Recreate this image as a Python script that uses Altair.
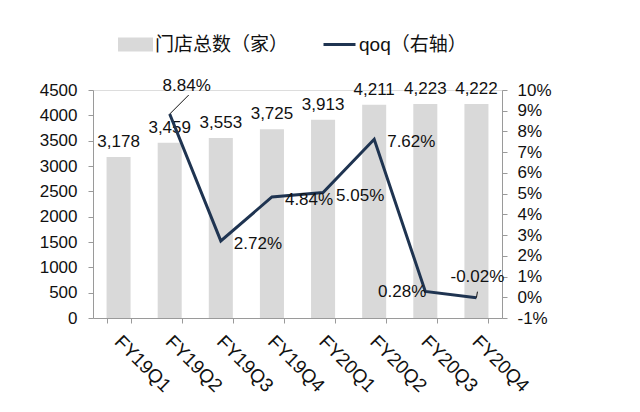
import altair as alt
import pandas as pd

quarters = ["FY19Q1", "FY19Q2", "FY19Q3", "FY19Q4", "FY20Q1", "FY20Q2", "FY20Q3", "FY20Q4"]
stores = [3178, 3459, 3553, 3725, 3913, 4211, 4223, 4222]
qoq_quarters = ["FY19Q2", "FY19Q3", "FY19Q4", "FY20Q1", "FY20Q2", "FY20Q3", "FY20Q4"]
qoq_values = [8.84, 2.72, 4.84, 5.05, 7.62, 0.28, -0.02]
left_ticks = [0, 500, 1000, 1500, 2000, 2500, 3000, 3500, 4000, 4500]
right_ticks = [-1, 0, 1, 2, 3, 4, 5, 6, 7, 8, 9, 10]
bar_name = "门店总数（家）"
line_name = "qoq（右轴）"

bars_df = pd.DataFrame({"q": quarters, "stores": stores})
bars_df["label"] = [f"{v:,}" for v in stores]
bars_df["series"] = bar_name
line_df = pd.DataFrame({"q": qoq_quarters, "qoq": qoq_values})
line_df["label"] = [f"{v:.2f}%" for v in qoq_values]
line_df["series"] = line_name

FONT = "Liberation Sans, Noto Sans CJK SC, sans-serif"
NAVY = "#1f3451"
GRAY = "#d9d9d9"
AXIS = "#9a9a9a"

X = alt.X(
    "q:N",
    sort=quarters,
    title=None,
    scale=alt.Scale(paddingInner=0.53, paddingOuter=0.265),
    axis=alt.Axis(
        labelAngle=45, labelAlign="left", labelBaseline="top", labelPadding=9,
        labelOffset=5, labelFontSize=19, labelColor="#111", domainColor=AXIS,
        tickColor=AXIS, tickBand="extent", tickSize=5, labelFont=FONT,
    ),
)
YL = alt.Y(
    "stores:Q",
    title=None,
    scale=alt.Scale(domain=[0, 4500], nice=False),
    axis=alt.Axis(
        orient="left", values=left_ticks, format="d", grid=False, labelFontSize=17,
        labelColor="#111", domainColor=AXIS, tickColor=AXIS, tickSize=5,
        labelPadding=11, labelFont=FONT,
    ),
)
YR = alt.Y(
    "qoq:Q",
    title=None,
    scale=alt.Scale(domain=[-1, 10], nice=False, zero=False),
    axis=alt.Axis(
        orient="right", values=right_ticks, labelExpr="datum.value + '%'", grid=False,
        labelFontSize=17, labelColor="#111", domainColor=AXIS, tickColor=AXIS,
        tickSize=5, labelPadding=10, labelFont=FONT,
    ),
)

bars = alt.Chart(bars_df).mark_bar(color=GRAY).encode(
    x=X, y=YL,
    fill=alt.Fill(
        "series:N",
        scale=alt.Scale(domain=[bar_name], range=[GRAY]),
        legend=alt.Legend(
            title=None, orient="none", legendX=25, legendY=-63, padding=0,
            symbolType="M-1,-0.4H1V0.4H-1Z", symbolSize=1225, symbolStrokeWidth=0,
            labelFontSize=19, labelFont=FONT, labelColor="#111", labelOffset=2,
            labelLimit=300,
        ),
    ),
)
bar_text = alt.Chart(bars_df).mark_text(
    fontSize=17, font=FONT, color="#111", baseline="alphabetic", dy=-10
).encode(x=X, y=YL, text="label:N")

line = alt.Chart(line_df).mark_line(strokeWidth=3, color=NAVY).encode(
    x=X, y=YR,
    stroke=alt.Stroke(
        "series:N",
        scale=alt.Scale(domain=[line_name], range=[NAVY]),
        legend=alt.Legend(
            title=None, orient="none", legendX=229, legendY=-63, padding=0,
            symbolType="stroke", symbolSize=1024, symbolStrokeWidth=3,
            labelFontSize=19, labelFont=FONT, labelColor="#111", labelOffset=2,
            labelLimit=300,
        ),
    ),
)


def qlabel(names, **kw):
    return alt.Chart(line_df).transform_filter(
        alt.FieldOneOfPredicate(field="q", oneOf=names)
    ).mark_text(fontSize=17, font=FONT, color="#111", baseline="middle", **kw).encode(
        x=X, y=YR, text="label:N"
    )


def leader(names, **kw):
    return alt.Chart(line_df).transform_filter(
        alt.FieldOneOfPredicate(field="q", oneOf=names)
    ).mark_rule(color="#111", strokeWidth=1, **kw).encode(
        x=X, x2="q:N", y=YR, y2="qoq:Q"
    )


t1 = qlabel(["FY19Q2"], align="center", dx=17, dy=-28)
t2 = qlabel(["FY19Q3", "FY19Q4", "FY20Q1", "FY20Q2"], align="left", dx=13, dy=3)
t3 = qlabel(["FY20Q3"], align="right", dx=1, dy=1)
t4 = qlabel(["FY20Q4"], align="center", dx=1, dy=-21)
l1 = leader(["FY19Q2"], x2Offset=19, y2Offset=-19)
l2 = leader(["FY20Q4"], x2Offset=1, y2Offset=-6)

left_layer = alt.layer(bars, bar_text)
right_layer = alt.layer(line, l1, l2, t1, t2, t3, t4)

chart = alt.layer(left_layer, right_layer).resolve_scale(
    y="independent", fill="independent", stroke="independent"
).properties(
    width=409, height=228,
    autosize=alt.AutoSizeParams(type="none"),
    padding={"left": 93, "top": 90, "right": 138, "bottom": 94},
    background="white",
).configure_view(stroke=None).configure(font=FONT)

chart.save("out.html", embed_options={"renderer": "svg", "actions": False})
